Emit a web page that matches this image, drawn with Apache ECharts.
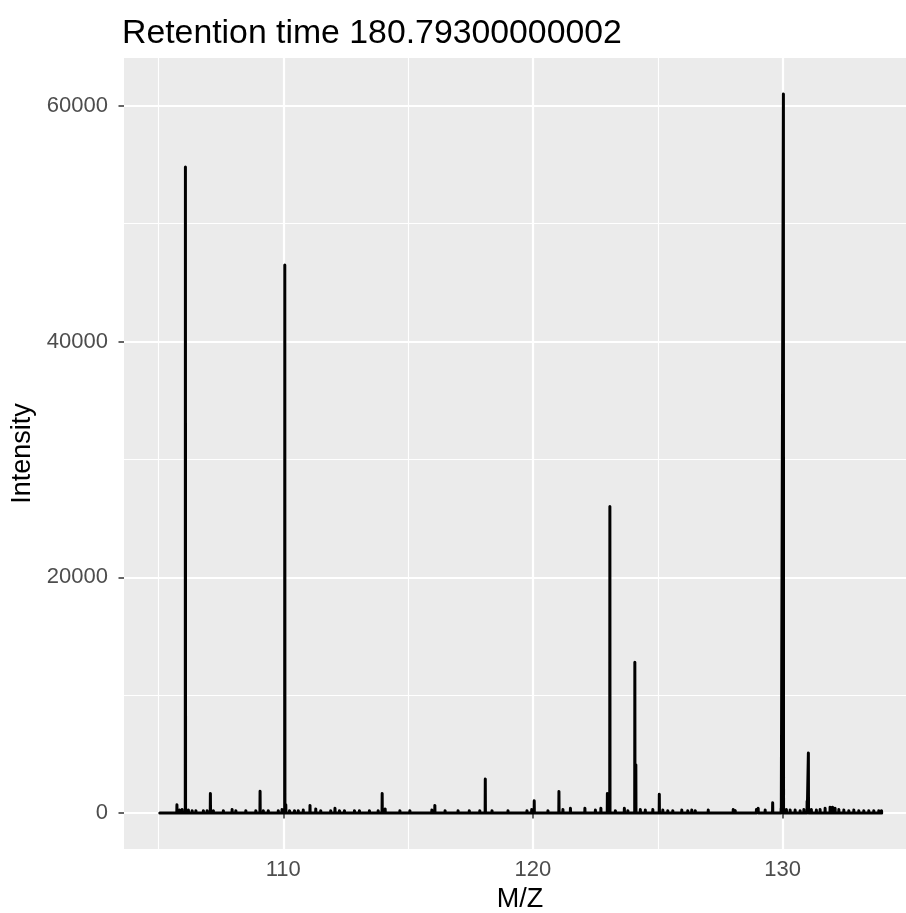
<!DOCTYPE html>
<html>
<head>
<meta charset="utf-8">
<script src="https://cdn.jsdelivr.net/npm/echarts@6/dist/echarts.min.js"></script>
<style>html,body{margin:0;padding:0;background:#fff}#c{width:906px;height:913px}</style>
</head>
<body>
<div id="c"></div>
<script>
// ---- data ----
const titleText = 'Retention time 180.79300000002';
const xTicks = [110, 120, 130];
const yTicks = [0, 20000, 40000, 60000];
const xMinorTicks = [105, 115, 125, 135];
const yMinorTicks = [10000, 30000, 50000];

const peakMz = [
  105.06, 105.74, 105.85, 105.95, 106.08, 106.2, 106.35, 106.5, 106.65, 106.8, 106.95,
  107.08, 107.2, 107.4, 107.6, 107.75, 107.95, 108.1, 108.3, 108.5, 108.7, 108.9,
  109.07, 109.2, 109.4, 109.6, 109.8, 109.95, 110.06, 110.1, 110.25, 110.45, 110.6, 110.8,
  111.07, 111.3, 111.5, 111.7, 111.9, 112.07, 112.25, 112.45, 112.65, 112.85, 113.05,
  113.25, 113.45, 113.65, 113.8, 113.96, 114.08, 114.3, 114.67, 114.85, 115.07, 115.25,
  115.67, 115.95, 116.07, 116.48, 116.7, 117.0, 117.2, 117.45, 117.65, 117.87, 118.09,
  118.36, 119.0, 119.1, 119.76, 119.95, 120.05, 120.3, 120.6, 120.85, 121.04, 121.2,
  121.5, 122.08, 122.5, 122.72, 122.98, 123.08, 123.3, 123.66, 123.8, 124.08, 124.12,
  124.3, 124.5, 124.8, 125.06, 125.2, 125.4, 125.6, 125.96, 126.2, 126.36, 126.5,
  127.02, 128.02, 128.1, 128.95, 129.02, 129.3, 129.6, 129.94, 130.03, 130.15, 130.3,
  130.5, 130.7, 130.85, 130.98, 131.03, 131.15, 131.35, 131.5, 131.7, 131.9, 132.0,
  132.1, 132.25, 132.45, 132.65, 132.85, 133.05, 133.25, 133.45, 133.65, 133.85, 133.96
];
const peakIntensity = [
  150, 700, 250, 300, 54800, 250, 200, 200, 150, 200, 200,
  1650, 200, 150, 200, 150, 300, 200, 150, 200, 150, 200,
  1850, 200, 200, 150, 200, 300, 46500, 700, 200, 200, 200, 250,
  650, 350, 200, 150, 200, 400, 200, 200, 150, 200, 200,
  150, 200, 150, 200, 1650, 350, 150, 200, 150, 200, 150,
  150, 250, 650, 200, 150, 200, 150, 200, 150, 200, 2890,
  200, 200, 150, 200, 300, 1040, 150, 200, 150, 1830, 300,
  400, 400, 250, 400, 1660, 26000, 200, 400, 200, 12800, 4100,
  300, 250, 300, 1600, 250, 200, 200, 250, 200, 250, 200,
  250, 300, 200, 300, 400, 250, 870, 400, 61000, 300, 250,
  250, 200, 300, 1000, 5100, 300, 250, 300, 400, 500, 500,
  400, 300, 250, 200, 250, 200, 200, 200, 200, 200, 200
];

// spectrum as a profile: each peak rises from and returns to the baseline
const halfWidth = 0.006;
const lineData = [];
peakMz.forEach((mz, i) => {
  lineData.push([mz - halfWidth, 0]);
  lineData.push([mz, peakIntensity[i]]);
  lineData.push([mz + halfWidth, 0]);
});

const FONT = 'Liberation Sans, Arial, Helvetica, sans-serif';
const chart = echarts.init(document.getElementById('c'), null, {renderer: 'canvas'});
chart.setOption({
  animation: false,
  backgroundColor: '#ffffff',
  title: {
    text: titleText, left: 117, top: 12,
    textStyle: {fontFamily: FONT, fontSize: 33.8, fontWeight: 'normal', color: '#000'}
  },
  grid: {left: 124, right: 0, top: 58, bottom: 64, show: true, backgroundColor: '#EBEBEB', borderWidth: 0,
         containLabel: false, outerBoundsMode: 'none'},
  xAxis: [{
    type: 'value', min: 103.62, max: 134.94,
    name: 'M/Z', nameLocation: 'middle', nameGap: 33,
    nameTextStyle: {fontFamily: FONT, fontSize: 27, color: '#000', padding: [0, 0, 0, 10]},
    axisLine: {show: false},
    axisTick: {show: true, customValues: xTicks, length: 5.5, lineStyle: {color: '#333', width: 1.5}},
    axisLabel: {customValues: xTicks, margin: 10, fontFamily: FONT, fontSize: 22, color: '#4D4D4D',
                formatter: v => String(v)},
    splitLine: {show: true, lineStyle: {color: '#fff', width: 2.2}}
  }, {
    type: 'value', min: 103.62, max: 134.94, position: 'bottom',
    axisLine: {show: false},
    axisTick: {show: false, customValues: xMinorTicks},
    axisLabel: {show: false, customValues: xMinorTicks},
    splitLine: {show: true, lineStyle: {color: '#fff', width: 1.1}}
  }],
  yAxis: [{
    type: 'value', min: -3050, max: 64050,
    name: 'Intensity', nameLocation: 'middle', nameGap: 88,
    nameTextStyle: {fontFamily: FONT, fontSize: 27, color: '#000'},
    axisLine: {show: false},
    axisTick: {show: true, customValues: yTicks, length: 5.5, lineStyle: {color: '#333', width: 1.5}},
    axisLabel: {customValues: yTicks, margin: 16, fontFamily: FONT, fontSize: 22, color: '#4D4D4D',
                formatter: v => String(v)},
    splitLine: {show: true, lineStyle: {color: '#fff', width: 2.2}}
  }, {
    type: 'value', min: -3050, max: 64050, position: 'left',
    axisLine: {show: false},
    axisTick: {show: false, customValues: yMinorTicks},
    axisLabel: {show: false, customValues: yMinorTicks},
    splitLine: {show: true, lineStyle: {color: '#fff', width: 1.1}}
  }],
  series: [{
    type: 'line', xAxisIndex: 0, yAxisIndex: 0,
    data: lineData, showSymbol: false, symbol: 'none',
    lineStyle: {color: '#000', width: 3, join: 'round', cap: 'round'},
    z: 10
  }]
});
</script>
</body>
</html>
